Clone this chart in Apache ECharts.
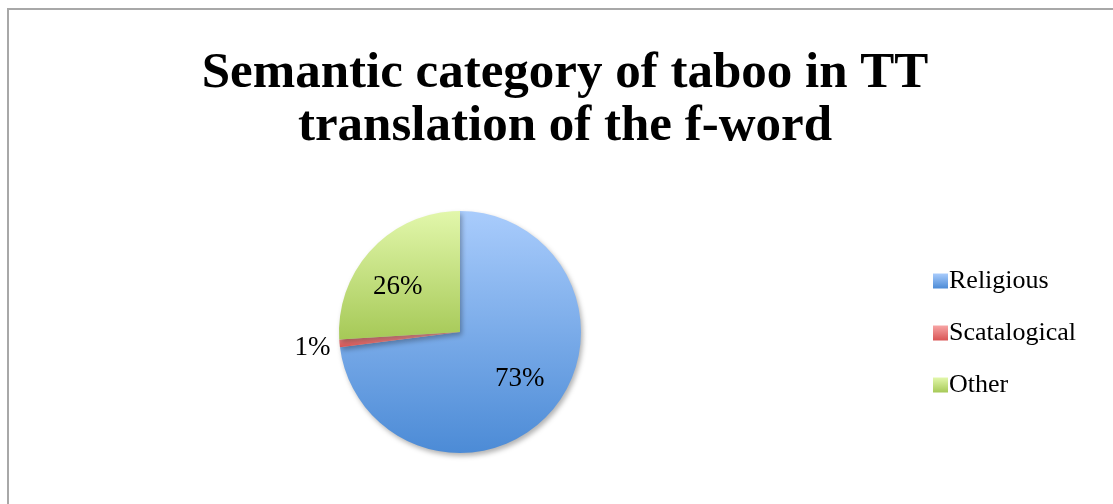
<!DOCTYPE html>
<html>
<head>
<meta charset="utf-8">
<script src="https://cdn.jsdelivr.net/npm/echarts@6/dist/echarts.min.js"></script>
<style>
  html, body { margin: 0; padding: 0; background: #fff; }
  #chart { width: 1113px; height: 504px; }
</style>
</head>
<body>
<div id="chart"></div>
<script>
// Share of each semantic category of taboo (percent)
const categories = ['Religious', 'Scatalogical', 'Other'];
const shares = [73, 1, 26];
const titleText = 'Semantic category of taboo in TT\ntranslation of the f-word';

// Vertical gradient fills, light at the top, deeper at the bottom
const fills = [
  ['#a9ccfc', '#4c8bd6'],
  ['#f7a5a5', '#d95454'],
  ['#e2f7ab', '#a6c957']
];
// Per-slice label placement
const labelStyles = [
  { position: 'inside', offset: [12, 5] },
  { position: 'outside', offset: [0, 4] },
  { position: 'inside', offset: [-16, -2] }
];

const serif = '"Liberation Serif", "DejaVu Serif", serif';

const chart = echarts.init(document.getElementById('chart'), null, { renderer: 'canvas' });

const pieData = categories.map((name, i) => ({
  name,
  value: shares[i],
  itemStyle: {
    color: new echarts.graphic.LinearGradient(0, 0, 0, 1, [
      { offset: 0, color: fills[i][0] },
      { offset: 1, color: fills[i][1] }
    ])
  },
  label: labelStyles[i]
}));

chart.setOption({
  animation: false,
  backgroundColor: '#ffffff',
  graphic: [{
    type: 'rect',
    shape: { x: 8, y: 9, width: 1200, height: 600 },
    style: { fill: 'none', stroke: '#a8a8a8', lineWidth: 2 },
    silent: true
  }],
  title: {
    text: titleText,
    left: 560,
    textAlign: 'center',
    top: 42,
    textStyle: {
      fontFamily: serif,
      fontWeight: 'bold',
      fontSize: 51,
      lineHeight: 53,
      color: '#000'
    }
  },
  legend: {
    orient: 'vertical',
    left: 928,
    top: 263,
    icon: 'rect',
    itemWidth: 15,
    itemHeight: 15,
    itemGap: 26,
    data: categories,
    textStyle: {
      fontFamily: serif,
      fontSize: 26,
      lineHeight: 25,
      color: '#000',
      padding: [0, 0, 0, -4]
    }
  },
  series: [{
    type: 'pie',
    center: [460, 332],
    radius: [0, 121],
    startAngle: 90,
    clockwise: true,
    silent: true,
    avoidLabelOverlap: false,
    itemStyle: {
      shadowBlur: 5,
      shadowOffsetX: 2,
      shadowOffsetY: 3,
      shadowColor: 'rgba(0,0,0,0.3)'
    },
    label: {
      show: true,
      formatter: '{c}%',
      fontFamily: serif,
      fontSize: 27,
      color: '#000',
      distanceToLabelLine: 0
    },
    labelLine: { show: false, length: 3, length2: 6 },
    data: pieData
  }]
});
</script>
</body>
</html>
